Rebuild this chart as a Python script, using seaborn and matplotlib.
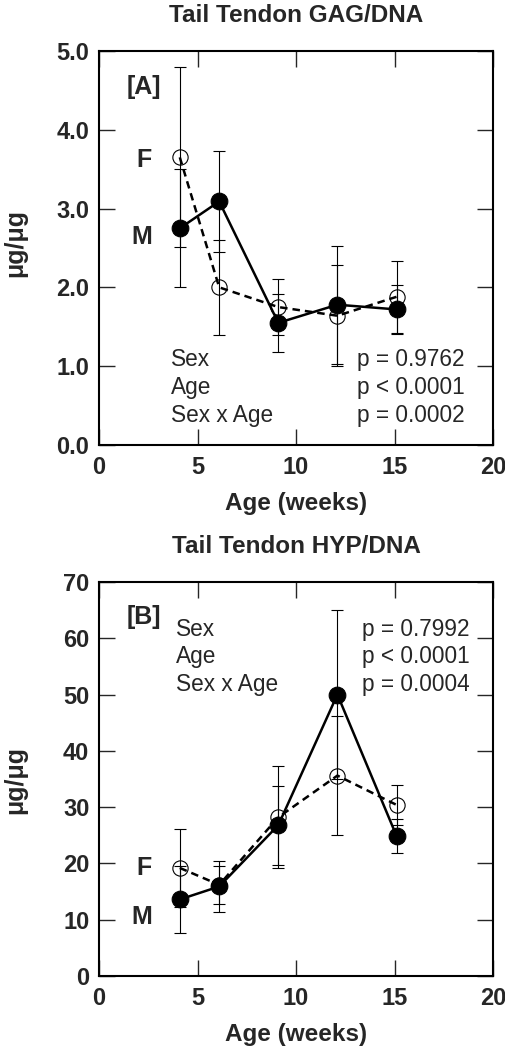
import numpy as np
import pandas as pd
import seaborn as sns
import matplotlib.pyplot as plt

# values (mean +/- error), x = age in weeks
ages = [4.1, 6.1, 9.1, 12.1, 15.1]

gag_m = [2.75, 3.09, 1.55, 1.78, 1.72]
gag_m_err = [0.75, 0.64, 0.37, 0.75, 0.31]
gag_f = [3.65, 2.00, 1.75, 1.64, 1.88]
gag_f_err = [1.14, 0.60, 0.36, 0.64, 0.46]

hyp_m = [13.6, 15.9, 26.8, 50.0, 24.9]
hyp_m_err = [5.9, 4.5, 7.0, 15.0, 3.0]
hyp_f = [19.2, 16.2, 28.2, 35.6, 30.4]
hyp_f_err = [7.0, 3.4, 9.1, 10.5, 3.6]

gag_stats = ["p = 0.9762", "p < 0.0001", "p = 0.0002"]
hyp_stats = ["p = 0.7992", "p < 0.0001", "p = 0.0004"]
stat_names = ["Sex", "Age", "Sex x Age"]

sns.set_style("ticks")
plt.rcParams['font.family'] = ['Liberation Sans', 'DejaVu Sans']

fig = plt.figure(figsize=(5.06, 10.48), dpi=100)
ax1 = fig.add_axes([0.1957, 0.5754, 0.7787, 0.3760])
ax2 = fig.add_axes([0.1957, 0.0687, 0.7787, 0.3760])


def draw_panel(ax, m, m_err, f, f_err):
    df = pd.DataFrame({'age': ages, 'm': m, 'f': f})
    # error bars first, thin with caps
    ax.errorbar(ages, f, yerr=f_err, fmt='none', ecolor='black', elinewidth=0.8,
                capsize=4.3, capthick=0.8, zorder=2)
    ax.errorbar(ages, m, yerr=m_err, fmt='none', ecolor='black', elinewidth=0.8,
                capsize=4.3, capthick=0.8, zorder=2)
    sns.lineplot(data=df, x='age', y='f', ax=ax, color='black', linewidth=1.8,
                 linestyle=(0, (3.0, 2.0)), marker='o', markersize=11,
                 markerfacecolor='none', markeredgecolor='black',
                 markeredgewidth=0.8, zorder=3)
    sns.lineplot(data=df, x='age', y='m', ax=ax, color='black', linewidth=1.8,
                 marker='o', markersize=12, markerfacecolor='black',
                 markeredgecolor='black', markeredgewidth=0.8, zorder=4)
    ax.set_xlim(0, 20)
    ax.set_xticks([0, 5, 10, 15, 20])
    ax.tick_params(direction='in', top=True, right=True, length=11.5, width=1,
                   labelsize=17, pad=7)
    ax.tick_params(axis='x', pad=8)
    for lab in ax.get_xticklabels() + ax.get_yticklabels():
        lab.set_fontweight('bold')
    for sp in ax.spines.values():
        sp.set_linewidth(1.5)
        sp.set_color('black')
    ax.set_xlabel("Age (weeks)", fontsize=17.5, fontweight='bold', labelpad=9)
    ax.set_ylabel("")


draw_panel(ax1, gag_m, gag_m_err, gag_f, gag_f_err)
ax1.set_ylim(0, 5)
ax1.set_yticks([0, 1, 2, 3, 4, 5])
ax1.set_yticklabels(["0.0", "1.0", "2.0", "3.0", "4.0", "5.0"], fontweight='bold')
ax1.set_title("Tail Tendon GAG/DNA", fontsize=17.5, fontweight='bold', pad=21)
ax1.text(0.07, 0.909, "[A]", transform=ax1.transAxes, fontsize=18,
         fontweight='bold', va='center', ha='left')
ax1.text(0.134, 0.723, "F", transform=ax1.transAxes, fontsize=18,
         fontweight='bold', va='center', ha='right')
ax1.text(0.134, 0.529, "M", transform=ax1.transAxes, fontsize=18,
         fontweight='bold', va='center', ha='right')
for i, yy in enumerate([0.216, 0.146, 0.075]):
    ax1.text(0.182, yy, stat_names[i], transform=ax1.transAxes, fontsize=16.3,
             va='center', ha='left')
    ax1.text(0.654, yy, gag_stats[i], transform=ax1.transAxes, fontsize=16.3,
             va='center', ha='left')

draw_panel(ax2, hyp_m, hyp_m_err, hyp_f, hyp_f_err)
ax2.set_ylim(0, 70)
ax2.set_yticks([0, 10, 20, 30, 40, 50, 60, 70])
ax2.set_yticklabels(["0", "10", "20", "30", "40", "50", "60", "70"], fontweight='bold')
ax2.set_title("Tail Tendon HYP/DNA", fontsize=17.5, fontweight='bold', pad=21)
ax2.text(0.07, 0.912, "[B]", transform=ax2.transAxes, fontsize=18,
         fontweight='bold', va='center', ha='left')
ax2.text(0.134, 0.273, "F", transform=ax2.transAxes, fontsize=18,
         fontweight='bold', va='center', ha='right')
ax2.text(0.134, 0.150, "M", transform=ax2.transAxes, fontsize=18,
         fontweight='bold', va='center', ha='right')
for i, yy in enumerate([0.880, 0.810, 0.741]):
    ax2.text(0.195, yy, stat_names[i], transform=ax2.transAxes, fontsize=16.3,
             va='center', ha='left')
    ax2.text(0.667, yy, hyp_stats[i], transform=ax2.transAxes, fontsize=16.3,
             va='center', ha='left')

# y labels, rotated, far left
for y in [0.768, 0.256]:
    fig.text(15 / 506, y, "μg/μg", rotation=90, fontsize=18, fontweight='bold',
             ha='center', va='center')

fig.savefig("out.png", dpi=100)
